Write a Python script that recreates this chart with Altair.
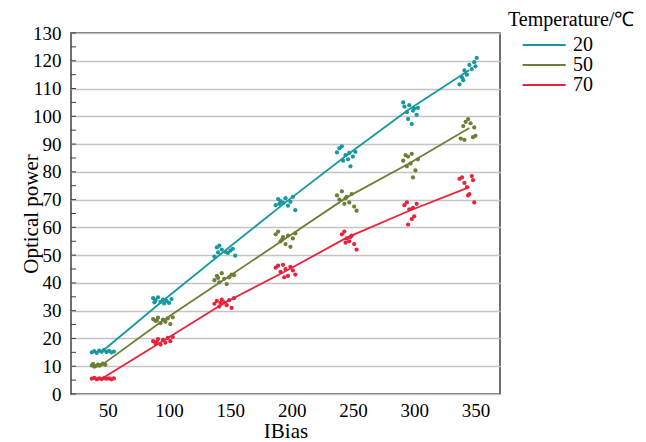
import altair as alt
import pandas as pd

series = ["20", "50", "70"]
colors = ["#17989e", "#6b7f35", "#e8223a"]

line_x = [45, 95, 145, 195, 245, 295, 345]
line_20 = [15.2, 33.6, 51.4, 69.0, 86.0, 102.3, 116.7]
line_50 = [10.4, 26.5, 41.2, 56.0, 70.8, 82.8, 95.8]
line_70 = [5.5, 19.1, 32.8, 44.2, 56.3, 65.8, 74.5]

pts_20_x = [37, 39, 41, 43, 45, 47, 49, 51, 53, 55,
            87, 89, 91, 93, 95, 96, 98, 100, 102, 88,
            137, 139, 141, 143, 146, 148, 150, 152, 154, 140,
            187, 189, 191, 193, 195, 197, 199, 201, 203, 190,
            237, 239, 241, 244, 246, 248, 250, 252, 242, 247,
            291, 292, 294, 296, 298, 300, 302, 303, 295, 299,
            337, 339, 341, 343, 345, 347, 349, 351, 340, 350]
pts_20_y = [15.0, 15.4, 14.8, 15.6, 15.2, 15.9, 15.1, 15.5, 15.0, 15.3,
            34.5, 33.8, 34.8, 33.2, 34.0, 32.6, 33.5, 32.8, 34.2, 33.0,
            49.5, 52.8, 53.4, 52.0, 51.2, 50.8, 51.6, 52.3, 49.8, 51.0,
            68.0, 70.2, 69.5, 68.8, 70.5, 67.8, 69.2, 71.0, 66.2, 68.5,
            87.0, 88.5, 89.2, 86.0, 84.5, 82.0, 85.5, 87.2, 84.0, 86.8,
            105.0, 103.5, 101.5, 104.0, 97.2, 102.8, 100.5, 103.0, 99.0, 102.0,
            111.5, 114.0, 116.5, 115.0, 118.5, 117.0, 119.5, 121.0, 113.0, 118.0]

pts_50_x = [37, 38, 40, 42, 44, 46, 48, 39, 43,
            87, 89, 91, 93, 95, 97, 99, 101, 103, 90,
            137, 139, 141, 143, 145, 147, 149, 151, 153, 140,
            187, 189, 191, 193, 195, 197, 199, 201, 203, 192,
            237, 239, 241, 243, 245, 247, 249, 251, 253, 244,
            291, 293, 295, 297, 299, 301, 303, 294, 298,
            338, 340, 342, 344, 346, 348, 350, 341, 349]
pts_50_y = [10.3, 10.8, 10.0, 10.6, 10.4, 10.9, 10.5, 9.9, 10.2,
            27.0, 26.3, 27.5, 25.5, 26.8, 26.0, 27.2, 25.2, 27.6, 26.5,
            41.0, 42.5, 40.2, 43.5, 41.5, 39.6, 42.0, 43.0, 42.8, 41.8,
            57.5, 58.5, 55.0, 56.5, 54.0, 57.0, 53.0, 56.0, 57.8, 55.5,
            71.5, 70.0, 73.0, 68.5, 71.0, 69.0, 72.0, 67.5, 66.0, 70.5,
            84.0, 86.0, 85.5, 83.0, 78.0, 80.5, 84.5, 82.0, 86.5,
            92.0, 96.5, 98.0, 99.0, 97.5, 92.5, 93.0, 91.5, 96.0]

pts_70_x = [37, 39, 41, 43, 45, 47, 49, 51, 53, 55,
            87, 89, 91, 93, 95, 97, 99, 101, 103, 90,
            137, 139, 141, 143, 145, 147, 149, 151, 153, 142,
            187, 189, 191, 193, 195, 197, 199, 201, 203, 194,
            241, 243, 245, 247, 249, 251, 253, 244, 248,
            292, 294, 296, 298, 300, 302, 295, 299,
            337, 339, 341, 343, 345, 347, 349, 344, 348]
pts_70_y = [5.5, 5.8, 5.3, 5.6, 5.4, 5.7, 5.5, 5.6, 5.3, 5.6,
            19.0, 18.2, 19.8, 17.8, 19.5, 18.5, 20.2, 19.0, 20.5, 18.8,
            32.5, 33.5, 31.5, 34.0, 33.0, 32.0, 33.8, 31.0, 34.5, 32.8,
            45.5, 46.2, 44.0, 46.5, 45.0, 42.5, 45.8, 44.5, 43.0, 42.0,
            57.5, 58.5, 56.0, 55.0, 57.0, 54.0, 52.0, 54.5, 56.5,
            68.0, 69.0, 66.5, 63.0, 64.0, 68.5, 61.0, 67.0,
            77.5, 78.0, 76.0, 74.5, 72.0, 78.5, 69.0, 71.5, 77.0]

y_ticks = list(range(0, 131, 10))
y_minor = list(range(0, 131, 5))
x_ticks = [50, 100, 150, 200, 250, 300, 350]

FONT = "Liberation Serif"

lines_df = pd.concat([
    pd.DataFrame({"IBias": line_x, "power": v, "Temperature": s})
    for s, v in zip(series, [line_20, line_50, line_70])
])
pts_df = pd.concat([
    pd.DataFrame({"IBias": x, "power": y, "Temperature": s})
    for s, x, y in zip(series, [pts_20_x, pts_50_x, pts_70_x],
                       [pts_20_y, pts_50_y, pts_70_y])
])
minor_df = pd.DataFrame({"v": y_minor})

xscale = alt.Scale(domain=[20, 370], nice=False, zero=False)
yscale = alt.Scale(domain=[0, 130], nice=False)
cscale = alt.Scale(domain=series, range=colors)
legend = alt.Legend(
    title="Temperature/℃", orient="none", legendX=437, legendY=-23,
    titleFont=FONT, titleFontSize=20, titleFontWeight="normal",
    titleColor="black", titlePadding=5,
    symbolType="M-1,0H7", symbolSize=116, symbolStrokeWidth=2.2,
    symbolOffset=10,
    labelFont=FONT, labelFontSize=20, labelColor="black",
    labelOffset=35, padding=0, rowPadding=0,
)

xaxis = alt.Axis(values=x_ticks, title="IBias", ticks=False, grid=False,
                 domain=False, labelPadding=7, titlePadding=0)
yaxis = alt.Axis(values=y_ticks, title="Optical power", ticks=False,
                 grid=True, domain=False, labelPadding=10, titlePadding=-9)

base_x = alt.X("IBias:Q", scale=xscale, axis=xaxis)
base_y = alt.Y("power:Q", scale=yscale, axis=yaxis)

minor = alt.Chart(minor_df).mark_rule(color="#404040", strokeWidth=1).encode(
    y=alt.Y("v:Q", scale=yscale, axis=yaxis),
    x=alt.value(0), x2=alt.value(5),
)

lines = alt.Chart(lines_df).mark_line(strokeWidth=1.8).encode(
    x=base_x, y=base_y,
    color=alt.Color("Temperature:N", scale=cscale, legend=legend),
)

points = alt.Chart(pts_df).mark_circle(size=18, opacity=1).encode(
    x=base_x, y=base_y,
    color=alt.Color("Temperature:N", scale=cscale, legend=legend),
)

chart = alt.layer(minor, lines, points).properties(
    width=429, height=361,
    padding={"left": 12, "top": 2, "right": 0, "bottom": 0},
).configure_view(
    stroke="#404040", strokeWidth=1.5
).configure_axis(
    labelFont=FONT, labelFontSize=19, labelColor="black",
    titleFont=FONT, titleFontSize=21, titleColor="black",
    titleFontWeight="normal", gridColor="#c4c4c4", gridWidth=1.5,
)

chart.save("out.html", embed_options={"renderer": "svg", "actions": False})
